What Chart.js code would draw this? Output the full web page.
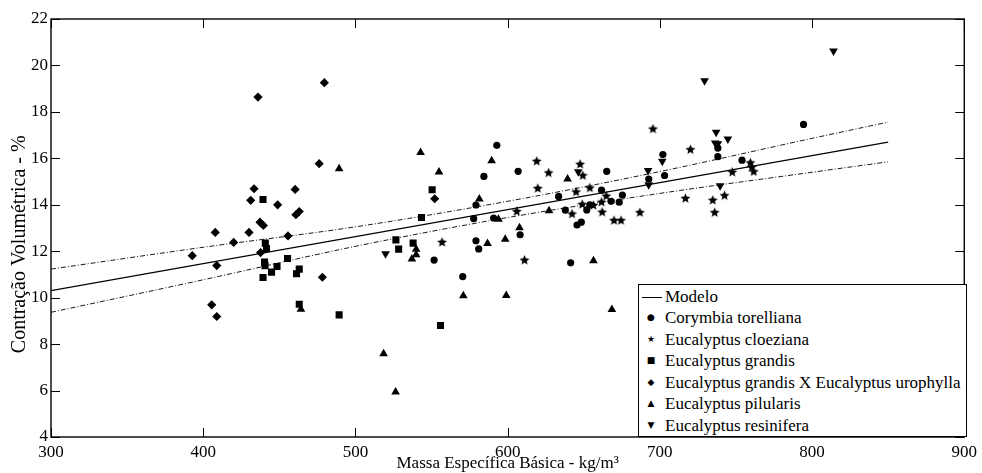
<!DOCTYPE html>
<html>
<head>
<meta charset="utf-8">
<script src="https://cdn.jsdelivr.net/npm/chart.js@4.4.0/dist/chart.umd.min.js"></script>
<style>
html, body { margin: 0; padding: 0; background: #fff; }
#wrap { position: relative; width: 982px; height: 473px; }
#legenda {
    position: absolute; left: 638px; top: 284px; width: 327px; height: 150px;
    border: 1px solid #000; background: #fff; color: #000;
    font: 17px "Liberation Serif", "Times New Roman", serif; padding-top: 0.5px;
}
.item { height: 21.5px; line-height: 21.5px; position: relative; padding-left: 26px; white-space: nowrap; }
.sym { position: absolute; left: 5px; width: 14px; text-align: center; font: 9px "DejaVu Sans", sans-serif; line-height: 21.5px; }
.linha { position: absolute; left: 3px; top: 11px; width: 20px; border-top: 1px solid #000; }
</style>
</head>
<body>
<div id="wrap">
    <canvas id="grafico" width="982" height="473"></canvas>
    <div id="legenda">
        <div class="item"><span class="linha"></span>Modelo</div>
        <div class="item"><span class="sym">●</span>Corymbia torelliana</div>
        <div class="item"><span class="sym">★</span>Eucalyptus cloeziana</div>
        <div class="item"><span class="sym">■</span>Eucalyptus grandis</div>
        <div class="item"><span class="sym">◆</span>Eucalyptus grandis X Eucalyptus urophylla</div>
        <div class="item"><span class="sym">▲</span>Eucalyptus pilularis</div>
        <div class="item"><span class="sym">▼</span>Eucalyptus resinifera</div>
    </div>
</div>
<script>
// Modelo ajustado e faixa de confiança
const modeloX = [300, 850];
const modeloY = [10.30, 16.70];
const faixaX = [300, 400, 500, 600, 700, 800, 850];
const faixaSup = [11.23, 12.17, 13.05, 14.15, 15.43, 16.86, 17.56];
const faixaInf = [9.37, 10.77, 12.21, 13.45, 14.49, 15.40, 15.85];

// Corymbia torelliana
const corymbiaX = [592.9, 584.4, 606.9, 579.2, 577.7, 590.8, 608.2, 579.2, 581.0, 551.7, 570.5, 633.5, 637.9, 645.6, 648.4,
    641.4, 652.0, 654.0, 661.7, 665.1, 668.0, 673.3, 675.4, 692.7, 702.0, 703.1, 738.1, 738.1, 754.0, 794.4];
const corymbiaY = [16.56, 15.22, 15.44, 13.99, 13.40, 13.43, 12.71, 12.45, 12.10, 11.62, 10.91, 14.36, 13.77, 13.13, 13.25,
    11.50, 13.78, 14.00, 14.63, 15.44, 14.15, 14.11, 14.42, 15.11, 16.16, 15.26, 16.44, 16.07, 15.92, 17.46];

// Eucalyptus cloeziana
const cloezianaX = [556.9, 606.0, 611.1, 619.1, 619.8, 626.9, 647.6, 649.4, 645.0, 654.0, 642.3, 649.0, 656.3, 662.1, 661.7,
    664.8, 669.9, 674.5, 686.9, 695.5, 720.1, 716.8, 734.8, 736.0, 742.5, 747.6, 759.5, 760.4, 761.7];
const cloezianaY = [12.38, 13.71, 11.61, 15.87, 14.70, 15.37, 15.74, 15.25, 14.55, 14.72, 13.60, 14.01, 13.97, 13.68, 14.11,
    14.37, 13.32, 13.32, 13.66, 17.26, 16.37, 14.27, 14.19, 13.66, 14.39, 15.40, 15.80, 15.61, 15.42];

// Eucalyptus grandis
const grandisX = [439.3, 440.8, 441.6, 440.3, 440.6, 439.3, 444.9, 448.5, 455.4, 461.3, 463.1, 463.1, 489.3, 550.4, 543.4,
    526.6, 528.4, 537.9, 555.9];
const grandisY = [14.23, 12.35, 12.12, 11.53, 11.38, 10.87, 11.10, 11.34, 11.69, 11.03, 11.23, 9.72, 9.26, 14.65, 13.45,
    12.49, 12.09, 12.35, 8.80];

// Eucalyptus grandis X Eucalyptus urophylla
const hibridoX = [392.8, 407.9, 420.0, 408.9, 405.6, 408.9, 436.0, 479.6, 476.2, 433.4, 431.2, 448.9, 460.4, 437.3, 439.5,
    460.9, 463.1, 430.1, 455.7, 437.7, 478.3, 552.1];
const hibridoY = [11.81, 12.81, 12.38, 11.38, 9.69, 9.19, 18.64, 19.26, 15.77, 14.69, 14.19, 14.00, 14.66, 13.25, 13.11,
    13.57, 13.71, 12.81, 12.66, 11.94, 10.88, 14.26];

// Eucalyptus pilularis
const pilularisX = [489.3, 542.8, 554.9, 589.5, 581.4, 539.9, 539.9, 537.1, 586.8, 598.4, 570.9, 599.1, 518.5, 526.4, 639.4,
    627.2, 607.8, 656.4, 668.5, 594.0, 464.2];
const pilularisY = [15.55, 16.25, 15.41, 15.90, 14.25, 12.09, 11.85, 11.66, 12.33, 12.52, 10.08, 10.09, 7.59, 5.94, 15.11,
    13.74, 13.01, 11.59, 9.49, 13.38, 9.50];

// Eucalyptus resinifera
const resiniferaX = [519.8, 646.4, 692.3, 692.7, 701.6, 729.4, 737.0, 736.4, 738.1, 744.7, 739.6, 814.1];
const resiniferaY = [11.89, 15.42, 15.48, 14.86, 15.87, 19.34, 17.12, 16.66, 16.63, 16.83, 14.82, 20.62];

const ticksX = [300, 400, 500, 600, 700, 800, 900];
const ticksY = [4, 6, 8, 10, 12, 14, 16, 18, 20, 22];
const tituloX = 'Massa Específica Básica - kg/m³';
const tituloY = 'Contração Volumétrica - %';

const FONTE = '"Liberation Serif", "Times New Roman", serif';

function pontos(xs, ys) {
    return xs.map((x, i) => ({ x, y: ys[i] }));
}

// Estrela cheia de cinco pontas (o 'star' do Chart.js é só traço)
function estrela(r) {
    const c = document.createElement('canvas');
    const s = Math.ceil(r * 2) + 2;
    c.width = s; c.height = s;
    const g = c.getContext('2d');
    g.fillStyle = '#000';
    g.beginPath();
    for (let i = 0; i < 10; i++) {
        const rr = i % 2 ? r * 0.45 : r;
        const ang = -Math.PI / 2 + i * Math.PI / 5;
        g.lineTo(s / 2 + rr * Math.cos(ang), s / 2 + rr * Math.sin(ang));
    }
    g.closePath();
    g.fill();
    return c;
}

// Moldura com marcas para dentro nos quatro lados + título do eixo y
const moldura = {
    id: 'moldura',
    afterDraw(chart) {
        const { ctx, chartArea: a, scales: { x, y } } = chart;
        ctx.save();
        ctx.strokeStyle = '#000';
        ctx.lineWidth = 1;
        ctx.beginPath();
        ticksX.forEach(v => {
            const px = Math.round(x.getPixelForValue(v)) + 0.5;
            ctx.moveTo(px, a.bottom); ctx.lineTo(px, a.bottom - 9);
            ctx.moveTo(px, a.top); ctx.lineTo(px, a.top + 9);
        });
        ticksY.forEach(v => {
            const py = Math.round(y.getPixelForValue(v)) + 0.5;
            ctx.moveTo(a.left, py); ctx.lineTo(a.left + 9, py);
            ctx.moveTo(a.right, py); ctx.lineTo(a.right - 9, py);
        });
        ctx.stroke();
        ctx.lineWidth = 1.4;
        ctx.strokeRect(a.left, a.top, a.right - a.left, a.bottom - a.top);

        // título vertical, um pouco abaixo do centro como no original
        ctx.translate(25, y.getPixelForValue(12.3));
        ctx.rotate(-Math.PI / 2);
        ctx.font = '20px ' + FONTE;
        ctx.fillStyle = '#000';
        ctx.textAlign = 'center';
        ctx.textBaseline = 'alphabetic';
        ctx.fillText(tituloY, 0, 0);
        ctx.restore();
    }
};

Chart.defaults.font.family = FONTE;
Chart.defaults.color = '#000';

const serie = (dados, estilo, raio, extra = {}) => Object.assign({
    type: 'scatter',
    data: dados,
    pointStyle: estilo,
    pointRadius: raio,
    pointHoverRadius: raio,
    pointBackgroundColor: '#000',
    pointBorderColor: '#000',
    pointBorderWidth: 0
}, extra);

const linha = (dados, tracejado, largura) => ({
    type: 'line',
    data: dados,
    borderColor: '#000',
    borderWidth: largura,
    borderDash: tracejado,
    pointRadius: 0,
    fill: false,
    cubicInterpolationMode: 'monotone'
});

new Chart(document.getElementById('grafico'), {
    type: 'scatter',
    data: {
        datasets: [
            linha(pontos(modeloX, modeloY), [], 1.2),
            linha(pontos(faixaX, faixaSup), [5, 2, 1, 2], 0.9),
            linha(pontos(faixaX, faixaInf), [5, 2, 1, 2], 0.9),
            serie(pontos(corymbiaX, corymbiaY), 'circle', 3.6),
            serie(pontos(cloezianaX, cloezianaY), estrela(5.2), 5),
            serie(pontos(grandisX, grandisY), 'rect', 5),
            serie(pontos(hibridoX, hibridoY), 'rectRot', 4.6),
            serie(pontos(pilularisX, pilularisY), 'triangle', 5),
            serie(pontos(resiniferaX, resiniferaY), 'triangle', 5, { pointRotation: 180 })
        ]
    },
    options: {
        responsive: false,
        animation: false,
        devicePixelRatio: 1,
        layout: { padding: { top: 19, right: 15, left: 0, bottom: 0 } },
        plugins: { legend: { display: false }, tooltip: { enabled: false } },
        scales: {
            x: {
                type: 'linear', min: 300, max: 900,
                afterBuildTicks: s => { s.ticks = ticksX.map(v => ({ value: v })); },
                afterFit: s => { s.height = 36; },
                ticks: { font: { family: FONTE, size: 17 }, padding: 5, maxRotation: 0 },
                grid: { display: false, drawTicks: false },
                border: { display: false },
                title: { display: true, text: tituloX, font: { family: FONTE, size: 17, lineHeight: 1 }, padding: { top: 0, bottom: 1 } }
            },
            y: {
                type: 'linear', min: 4, max: 22,
                afterBuildTicks: s => { s.ticks = ticksY.map(v => ({ value: v })); },
                afterFit: s => { s.width = 51; },
                ticks: { font: { family: FONTE, size: 17 }, padding: 3 },
                grid: { display: false, drawTicks: false },
                border: { display: false },
                title: { display: false }
            }
        }
    },
    plugins: [moldura]
});
</script>
</body>
</html>
